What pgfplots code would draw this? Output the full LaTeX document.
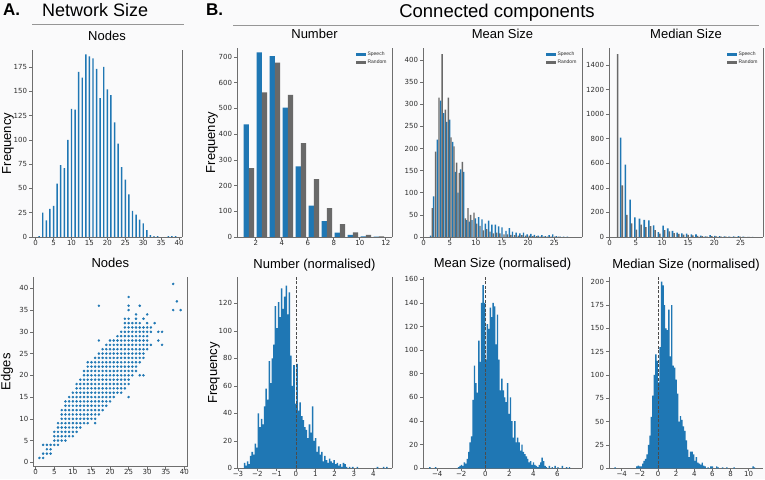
\documentclass[border=0pt]{standalone}
\usepackage{pgfplots}
\pgfplotsset{compat=1.18}
\usepackage{fontspec}
\setmainfont{Liberation Sans}
\newfontfamily\dv{DejaVu Sans}
\definecolor{tabblue}{RGB}{31,119,180}
\definecolor{rgray}{RGB}{105,105,105}
\definecolor{spine}{RGB}{110,110,110}
\definecolor{ticklab}{RGB}{45,45,45}
\definecolor{bg}{RGB}{250,250,251}
\definecolor{hline}{RGB}{150,150,150}

\tikzset{rspine/.style={spine, line width=0.7pt},
  ptitle/.style={anchor=base, yshift=9pt, inner sep=0pt, font=\fontsize{13}{15}\selectfont}}
\pgfplotsset{
  panel/.style={
    scale only axis, anchor=south west, clip=false, enlargelimits=false,
    axis x line*=bottom, axis y line*=left,
    axis line style={spine, line width=0.7pt},
    tick align=outside, major tick length=3pt,
    every tick/.style={spine, line width=0.6pt},
    tick label style={font=\dv\fontsize{7}{8}\selectfont, text=ticklab},
    xticklabel style={yshift=3.5pt},
    yticklabel style={xshift=1.5pt},
    /pgf/number format/assume math mode=true,
    /pgf/number format/1000 sep={},
    ylabel style={font=\fontsize{13}{15}\selectfont, anchor=center},
    legend style={draw=none, fill=none, font=\fontsize{5}{5.5}\selectfont, text=ticklab,
      at={(0.985,0.995)}, anchor=north east, inner sep=1pt, row sep=-1.5pt},
    legend cell align=left,
    legend image code/.code={\fill[##1] (0pt,-1.5pt) rectangle (10pt,1.5pt);},
  },
}

\begin{document}
\begin{tikzpicture}
\fill[bg] (0pt,0pt) rectangle (765pt,479pt);
\useasboundingbox (0pt,0pt) rectangle (765pt,479pt);

% headers
\node[anchor=base west, font=\bfseries\fontsize{17}{20}\selectfont, inner sep=0] at (3pt,463pt) {A.};
\node[anchor=base west, font=\fontsize{18}{21}\selectfont, inner sep=0] at (42pt,462pt) {Network Size};
\draw[hline, line width=0.8pt] (32pt,455pt) -- (184pt,455pt);
\node[anchor=base west, font=\bfseries\fontsize{17}{20}\selectfont, inner sep=0] at (206pt,463pt) {B.};
\node[anchor=base, font=\fontsize{18.5}{21}\selectfont, inner sep=0] at (497pt,461pt) {Connected components};
\draw[hline, line width=0.8pt] (233pt,454pt) -- (759pt,454pt);

% ---------- A top: Nodes histogram
\begin{axis}[panel, at={(32pt,242pt)}, width=150pt, height=187pt,
  xmin=-1, xmax=40.8, ymin=0, ymax=192.5,
  xtick={0,5,...,40}, ytick={0,25,...,175},
  ylabel={Frequency},
  ylabel style={at={(axis description cs:-0.16,0.5)}}]
\addplot[ybar, bar width=0.4, bar shift=0pt, fill=tabblue, draw=none] coordinates {
(1,1)(2,25)(3,17)(4,29)(5,32)(6,55)(7,74)(8,71)(9,100)(10,132)(11,131)(12,170)(13,164)(14,188)(15,186)(16,184)(17,173)(18,143)(19,175)(20,152)(21,146)(22,118)(23,96)(24,72)(25,59)(26,44)(27,27)(28,23)(29,18)(30,14)(31,7)(32,2)(33,1)(34,1)(37,1)(38,1)(39,1)};
\draw[rspine] (rel axis cs:1,0) -- (rel axis cs:1,1);
\node[ptitle] at (rel axis cs:0.5,1) {Nodes};
\end{axis}

% ---------- A bottom: Nodes vs Edges scatter
\begin{axis}[panel, at={(33.3pt,12.3pt)}, width=154pt, height=190pt,
  xmin=-0.65, xmax=40.8, ymin=-1.01, ymax=42.67,
  xtick={0,5,...,40}, ytick={0,5,...,40},
  ylabel={Edges},
  ylabel style={at={(axis description cs:-0.17,0.5)}}]
\addplot[only marks, mark=*, mark size=1.05pt, color=tabblue, mark options={draw=none, fill=tabblue}] coordinates {
(1,1)(2,1)
(2,2)(3,2)(4,2)
(3,3)(4,3)
(2,4)(3,4)(4,4)(5,4)(6,4)
(5,5)(6,5)(7,5)(8,5)
(5,6)(6,6)(7,6)(8,6)(9,6)(10,6)
(5,7)(6,7)(7,7)(8,7)(9,7)(10,7)(11,7)
(6,8)(7,8)(8,8)(9,8)(10,8)(11,8)(12,8)
(6,9)(7,9)(8,9)(9,9)(10,9)(11,9)(12,9)(13,9)(14,9)(16,9)
(7,10)(8,10)(9,10)(10,10)(11,10)(12,10)(13,10)(14,10)(15,10)(16,10)
(7,11)(8,11)(9,11)(10,11)(11,11)(12,11)(13,11)(14,11)(15,11)(16,11)(17,11)
(7,12)(8,12)(9,12)(10,12)(11,12)(12,12)(13,12)(14,12)(15,12)(16,12)(17,12)(18,12)
(8,13)(9,13)(10,13)(11,13)(12,13)(13,13)(14,13)(15,13)(16,13)(17,13)(18,13)(19,13)
(8,14)(9,14)(10,14)(11,14)(12,14)(13,14)(14,14)(15,14)(16,14)(17,14)(18,14)(19,14)(20,14)
(9,15)(10,15)(11,15)(12,15)(13,15)(14,15)(15,15)(16,15)(17,15)(18,15)(19,15)(20,15)(21,15)(25,15)
(10,16)(11,16)(12,16)(13,16)(14,16)(15,16)(16,16)(17,16)(18,16)(19,16)(20,16)(21,16)(22,16)(23,16)
(11,17)(12,17)(13,17)(14,17)(15,17)(16,17)(17,17)(18,17)(19,17)(20,17)(21,17)(22,17)(23,17)(24,17)
(11,18)(12,18)(13,18)(14,18)(15,18)(16,18)(17,18)(18,18)(19,18)(20,18)(21,18)(22,18)(23,18)(24,18)(25,18)
(12,19)(13,19)(14,19)(15,19)(16,19)(17,19)(18,19)(19,19)(20,19)(21,19)(22,19)(23,19)(24,19)(25,19)
(13,20)(14,20)(15,20)(16,20)(17,20)(18,20)(19,20)(20,20)(21,20)(22,20)(23,20)(24,20)(25,20)(26,20)(28,20)(29,20)
(13,21)(14,21)(15,21)(16,21)(17,21)(18,21)(19,21)(20,21)(21,21)(22,21)(23,21)(24,21)(25,21)(26,21)(27,21)
(14,22)(15,22)(16,22)(17,22)(18,22)(19,22)(20,22)(21,22)(22,22)(23,22)(24,22)(25,22)(26,22)(27,22)
(14,23)(15,23)(16,23)(17,23)(18,23)(19,23)(20,23)(21,23)(22,23)(23,23)(24,23)(25,23)(26,23)(27,23)(28,23)
(16,24)(17,24)(18,24)(19,24)(20,24)(21,24)(22,24)(23,24)(24,24)(25,24)(26,24)(27,24)(28,24)(29,24)
(17,25)(18,25)(19,25)(20,25)(21,25)(22,25)(23,25)(24,25)(25,25)(26,25)(27,25)(28,25)(29,25)
(18,26)(19,26)(20,26)(21,26)(22,26)(23,26)(24,26)(25,26)(26,26)(27,26)(28,26)(29,26)(30,26)
(19,27)(20,27)(21,27)(22,27)(23,27)(24,27)(25,27)(26,27)(27,27)(28,27)(29,27)(30,27)(31,27)(34,27)
(17,28)(20,28)(21,28)(22,28)(23,28)(24,28)(25,28)(26,28)(27,28)(28,28)(29,28)(30,28)(33,28)
(22,29)(23,29)(24,29)(25,29)(26,29)(27,29)(28,29)(29,29)(30,29)
(23,30)(24,30)(25,30)(26,30)(27,30)(28,30)(29,30)(30,30)(31,30)(33,30)(34,30)
(24,31)(25,31)(26,31)(27,31)(28,31)(29,31)(30,31)(31,31)
(24,32)(25,32)(26,32)(27,32)(28,32)(30,32)(32,32)
(24,33)(25,33)(27,33)(29,33)
(27,34)(30,34)
(25,35)(37,35)(39,35)
(17,36)(25,36)(28,36)
(38,37)(25,38)(37,41)};
\draw[rspine] (rel axis cs:1,0) -- (rel axis cs:1,1);
\node[ptitle] at (rel axis cs:0.5,1) {Nodes};
\end{axis}

% ---------- B top: Number
\begin{axis}[panel, at={(237pt,242pt)}, width=155pt, height=189pt,
  xmin=0.56, xmax=12.48, ymin=0, ymax=735,
  xtick={2,4,...,12}, ytick={0,100,...,700},
  ylabel={Frequency},
  ylabel style={at={(axis description cs:-0.161,0.5)}}]
\addplot[ybar, bar width=0.4, bar shift=0pt, fill=tabblue, draw=none, forget plot] coordinates {
(1.27,438)(2.27,718)(3.27,703)(4.27,503)(5.27,275)(6.27,122)(7.27,62)(8.27,17)(9.27,8)(10.27,2)(11.27,1)};
\addplot[ybar, bar width=0.4, bar shift=0pt, fill=rgray, draw=none, forget plot] coordinates {
(1.67,268)(2.67,562)(3.67,678)(4.67,553)(5.67,365)(6.67,225)(7.67,112)(8.67,50)(9.67,18)(10.67,8)(11.67,2)};
\addlegendimage{fill=tabblue, draw=none}\addlegendentry{Speech}
\addlegendimage{fill=rgray, draw=none}\addlegendentry{Random}
\draw[rspine] (rel axis cs:1,0) -- (rel axis cs:1,1);
\node[ptitle] at (rel axis cs:0.5,1) {Number};
\end{axis}

% ---------- B top: Mean Size
\begin{axis}[panel, at={(423pt,242pt)}, width=159pt, height=189pt,
  xmin=-0.13, xmax=30.3, ymin=0, ymax=427,
  xtick={0,5,...,25}, ytick={0,50,...,400}]
\addplot[ybar, bar width=0.28, bar shift=0pt, fill=tabblue, draw=none, forget plot] coordinates {
(1.34,3)(1.91,92)(2.61,220)(3.25,308)(3.83,280)(4.40,260)(4.97,265)(5.55,215)(6.06,147)(6.57,100)(7.08,153)(7.65,147)(8.23,38)(8.74,35)(9.25,38)(9.89,42)(10.52,45)(11.16,40)(11.80,30)(12.44,37)(13.07,28)(13.71,28)(14.35,24)(14.99,22)(15.75,14)(16.4,20)(17.0,12)(17.7,10)(18.4,8)(19.1,10)(19.8,6)(20.5,7)(21.2,5)(21.9,3)(22.6,4)(23.3,2)(24.0,4)(24.7,6)(25.4,2)(26.1,1)(26.8,1)(27.5,1)};
\addplot[ybar, bar width=0.28, bar shift=0pt, fill=rgray, draw=none, forget plot] coordinates {
(1.66,65)(2.30,193)(2.93,315)(3.51,413)(4.15,288)(4.72,315)(5.23,225)(5.80,205)(6.31,168)(6.82,145)(7.40,170)(7.97,42)(8.48,65)(8.99,50)(9.63,55)(10.14,30)(10.78,25)(11.42,15)(12.05,18)(12.69,12)(13.33,8)(13.97,10)(14.6,8)(15.37,6)(16.0,6)(16.7,5)(17.4,4)(18.1,3)(18.8,4)(19.5,3)(20.2,3)(20.9,2)(21.6,2)(22.3,1)(23.0,1)(23.7,1)(24.4,1)(25.1,1)(25.8,1)};
\addlegendimage{fill=tabblue, draw=none}\addlegendentry{Speech}
\addlegendimage{fill=rgray, draw=none}\addlegendentry{Random}
\draw[rspine] (rel axis cs:1,0) -- (rel axis cs:1,1);
\node[ptitle] at (rel axis cs:0.5,1) {Mean Size};
\end{axis}

% ---------- B top: Median Size
\begin{axis}[panel, at={(609pt,242pt)}, width=154pt, height=189pt,
  xmin=-0.13, xmax=29.3, ymin=0, ymax=1539,
  xtick={0,5,...,25}, ytick={0,200,...,1400}]
\addplot[ybar, bar width=0.3, bar shift=0pt, fill=tabblue, draw=none, forget plot] coordinates {
(2.1,810)(3.0,590)(3.9,305)(4.8,160)(5.7,150)(6.6,140)(7.5,135)(8.4,95)(9.3,40)(10.2,92)(11.1,70)(12.0,50)(12.9,35)(13.8,30)(14.7,28)(15.6,22)(16.5,22)(17.4,12)(18.3,5)(19.2,15)(20.1,10)(21.0,8)(21.9,5)(22.8,4)(23.7,6)(24.6,7)(25.5,3)(26.4,2)(27.3,1)};
\addplot[ybar, bar width=0.3, bar shift=0pt, fill=rgray, draw=none, forget plot] coordinates {
(1.5,1490)(2.4,420)(3.3,180)(4.2,110)(5.1,60)(6.0,100)(6.9,80)(7.8,88)(8.7,55)(9.6,28)(10.5,55)(11.4,45)(12.3,32)(13.2,25)(14.1,20)(15.0,18)(15.9,14)(16.8,10)(17.7,8)(18.6,3)(19.5,8)(20.4,6)(21.3,4)(22.2,3)(23.1,2)(24.0,2)(24.9,3)(25.8,1)(26.7,1)};
\addlegendimage{fill=tabblue, draw=none}\addlegendentry{Speech}
\addlegendimage{fill=rgray, draw=none}\addlegendentry{Random}
\draw[rspine] (rel axis cs:1,0) -- (rel axis cs:1,1);
\node[ptitle] at (rel axis cs:0.5,1) {Median Size};
\end{axis}

% ---------- B bottom: Number (normalised)
\begin{axis}[panel, at={(237pt,10.7pt)}, width=155pt, height=191pt,
  xmin=-3.05, xmax=4.97, ymin=0, ymax=139,
  xtick={-3,-2,...,4}, xticklabels={−3,−2,−1,0,1,2,3,4}, ytick={0,20,...,120},
  ylabel={Frequency},
  ylabel style={at={(axis description cs:-0.148,0.5)}}]
\addplot[ybar, bar width=0.08, bar shift=0pt, fill=tabblue, draw=none] coordinates {
(-2.66,4)(-2.58,2)(-2.50,5)(-2.42,3)(-2.34,9)(-2.26,12)(-2.18,10)(-2.10,18)(-2.02,15)(-1.94,40)(-1.86,30)(-1.78,36)(-1.70,32)(-1.62,45)(-1.54,58)(-1.46,50)(-1.38,78)(-1.30,62)(-1.22,80)(-1.14,90)(-1.06,118)(-0.98,102)(-0.90,121)(-0.82,110)(-0.74,131)(-0.66,116)(-0.58,125)(-0.50,133)(-0.42,112)(-0.34,128)(-0.26,82)(-0.18,60)(-0.10,75)(-0.02,47)(0.06,76)(0.14,42)(0.22,48)(0.30,38)(0.38,35)(0.46,30)(0.54,28)(0.62,22)(0.70,32)(0.78,26)(0.86,45)(0.94,20)(1.02,22)(1.10,12)(1.18,16)(1.26,10)(1.34,12)(1.42,5)(1.50,9)(1.58,6)(1.66,4)(1.74,7)(1.82,5)(1.90,4)(1.98,6)(2.06,3)(2.14,4)(2.22,2)(2.30,3)(2.38,1)(2.46,4)(2.54,3)(2.62,1)(2.78,1)(2.94,1)(3.18,1)(4.22,1)(4.54,1)(4.70,1)};
\addplot[color=black!70, line width=0.7pt, dash pattern=on 3pt off 1.6pt] coordinates {(0,0)(0,139)};
\draw[rspine] (rel axis cs:1,0) -- (rel axis cs:1,1);
\node[ptitle] at (rel axis cs:0.5,1) {Number (normalised)};
\end{axis}

% ---------- B bottom: Mean Size (normalised)
\begin{axis}[panel, at={(423pt,10.7pt)}, width=159pt, height=191.6pt,
  xmin=-5.19, xmax=8.06, ymin=0, ymax=162.2,
  xtick={-4,-2,...,6}, xticklabels={−4,−2,0,2,4,6}, ytick={0,20,...,160}]
\addplot[ybar, bar width=0.12, bar shift=0pt, fill=tabblue, draw=none] coordinates {
(-4.62,1)(-4.14,1)(-2.22,1)(-2.10,2)(-1.98,3)(-1.86,2)(-1.74,5)(-1.62,4)(-1.50,8)(-1.38,14)(-1.26,22)(-1.14,27)(-1.02,58)(-0.90,87)(-0.78,72)(-0.66,64)(-0.54,108)(-0.42,90)(-0.30,140)(-0.18,155)(-0.06,140)(0.06,92)(0.18,122)(0.30,118)(0.42,136)(0.54,128)(0.66,140)(0.78,137)(0.90,105)(1.02,130)(1.14,92)(1.26,66)(1.38,76)(1.50,66)(1.62,60)(1.74,56)(1.86,72)(1.98,46)(2.10,60)(2.22,40)(2.34,26)(2.46,40)(2.58,22)(2.70,26)(2.82,22)(2.94,15)(3.06,20)(3.18,14)(3.30,12)(3.42,10)(3.54,8)(3.66,5)(3.78,6)(3.90,3)(4.02,5)(4.14,3)(4.26,2)(4.38,1)(4.50,3)(4.62,5)(4.74,9)(4.86,6)(4.98,2)(5.10,1)(5.34,2)(5.58,1)(5.82,2)(6.06,1)(6.42,2)(6.78,1)(7.02,1)};
\addplot[color=black!70, line width=0.7pt, dash pattern=on 3pt off 1.6pt] coordinates {(0,0)(0,162.2)};
\draw[rspine] (rel axis cs:1,0) -- (rel axis cs:1,1);
\node[ptitle] at (rel axis cs:0.5,1) {Mean Size (normalised)};
\end{axis}

% ---------- B bottom: Median Size (normalised)
\begin{axis}[panel, at={(609pt,10.7pt)}, width=154pt, height=191pt,
  xmin=-5.4, xmax=11.58, ymin=0, ymax=204.7,
  xtick={-4,-2,...,10}, xticklabels={−4,−2,0,2,4,6,8,10}, ytick={0,25,...,200}]
\addplot[ybar, bar width=0.16, bar shift=0pt, fill=tabblue, draw=none] coordinates {
(-4.72,1)(-2.32,2)(-2.16,3)(-2.00,2)(-1.84,2)(-1.68,5)(-1.52,8)(-1.36,10)(-1.20,15)(-1.04,25)(-0.88,35)(-0.72,55)(-0.56,78)(-0.40,100)(-0.24,122)(-0.08,115)(0.08,92)(0.24,130)(0.40,200)(0.56,196)(0.72,175)(0.88,150)(1.04,148)(1.20,170)(1.36,120)(1.52,175)(1.68,110)(1.84,108)(2.00,95)(2.16,80)(2.32,50)(2.48,56)(2.64,52)(2.80,45)(2.96,40)(3.12,30)(3.28,20)(3.44,12)(3.60,18)(3.76,18)(3.92,15)(4.08,8)(4.24,12)(4.40,6)(4.56,5)(4.72,4)(4.88,6)(5.04,3)(5.20,2)(5.52,1)(5.84,2)(6.00,2)(6.48,2)(6.64,1)(7.12,1)(7.60,1)(8.40,1)(10.48,2)(10.64,1)};
\addplot[color=black!70, line width=0.7pt, dash pattern=on 3pt off 1.6pt] coordinates {(0,0)(0,204.7)};
\node[ptitle] at (rel axis cs:0.5,1) {Median Size (normalised)};
\end{axis}
\end{tikzpicture}
\end{document}
